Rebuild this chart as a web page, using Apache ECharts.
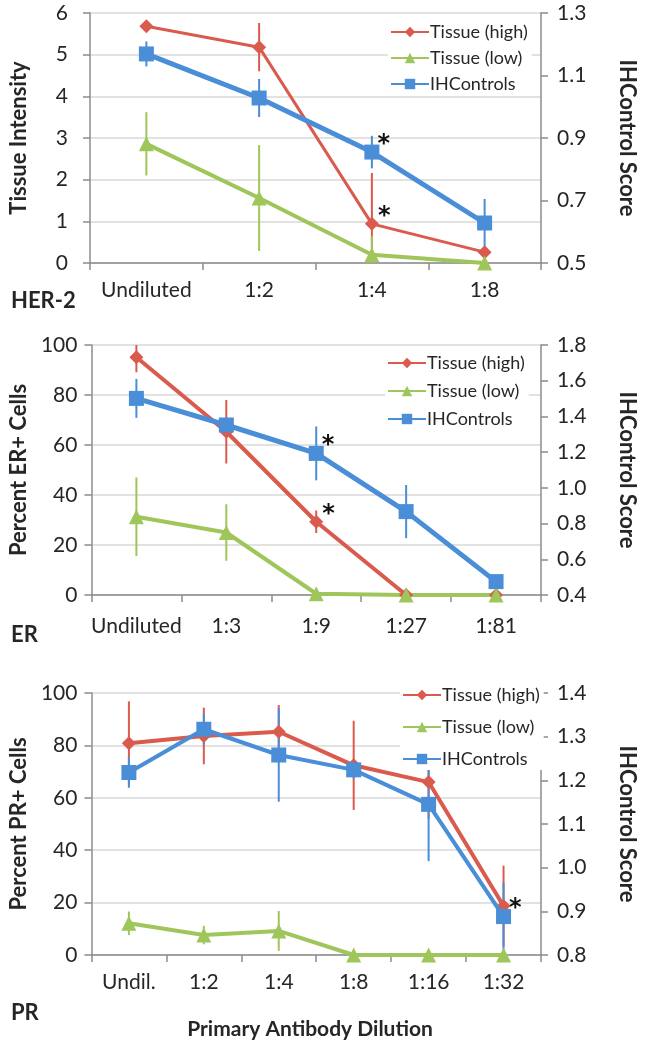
<!DOCTYPE html>
<html>
<head>
<meta charset="utf-8">
<script src="https://cdn.jsdelivr.net/npm/echarts@6/dist/echarts.min.js"></script>
<style>
html,body{margin:0;padding:0;background:#fff;}
#chart{width:646px;height:1041px;}
</style>
</head>
<body>
<div id="chart"></div>
<script>
// ---------- DATA ----------
const seriesNames = ['Tissue (high)', 'Tissue (low)', 'IHControls'];

const her2Categories = ['Undiluted', '1:2', '1:4', '1:8'];
const her2High = [5.68, 5.18, 0.94, 0.26];
const her2HighErr = [0, 0.58, 1.22, 0];
const her2Low = [2.86, 1.56, 0.2, 0];
const her2LowErr = [0.76, 1.27, 0.45, 0];
const her2Ctrl = [1.169, 1.028, 0.855, 0.628];
const her2CtrlErr = [0.04, 0.061, 0.052, 0.077];
const her2Star = { high: [2], ctrl: [2] };
const her2LeftTicks = { min: 0, max: 6, interval: 1 };
const her2RightTicks = { min: 0.5, max: 1.3, interval: 0.2 };

const erCategories = ['Undiluted', '1:3', '1:9', '1:27', '1:81'];
const erHigh = [95.1, 65.3, 29.3, 0, 0];
const erHighErr = [6, 12.7, 4.5, 0, 0];
const erLow = [31.3, 25, 0.5, 0, 0];
const erLowErr = [15.7, 11.3, 0, 0, 0];
const erCtrl = [1.501, 1.352, 1.193, 0.867, 0.475];
const erCtrlErr = [0.109, 0.02, 0.151, 0.149, 0];
const erStar = { high: [2], ctrl: [2] };
const erLeftTicks = { min: 0, max: 100, interval: 20 };
const erRightTicks = { min: 0.4, max: 1.8, interval: 0.2 };

const prCategories = ['Undil.', '1:2', '1:4', '1:8', '1:16', '1:32'];
const prHigh = [80.8, 83.6, 85.2, 72.4, 66.0, 18.7];
const prHighErr = [16, 10.8, 10.2, 17, 14, 15.4];
const prLow = [12.1, 7.6, 9.2, 0, 0, 0];
const prLowErr = [4.5, 3.5, 7.6, 0, 0, 0];
const prCtrl = [1.218, 1.317, 1.258, 1.224, 1.145, 0.888];
const prCtrlErr = [0.035, 0.035, 0.107, 0.02, 0.13, 0.077];
const prStar = { high: [], ctrl: [5] };
const prLeftTicks = { min: 0, max: 100, interval: 20 };
const prRightTicks = { min: 0.8, max: 1.4, interval: 0.1 };

// ---------- STYLE ----------
const RED = '#DA5A4E', GREEN = '#9FC65A', BLUE = '#4A8ED7';
const FONT = 'Lato';
const TXT = '#262626';
const AXIS = '#8C8C8C';

const panels = [
  { cats: her2Categories, high: her2High, highErr: her2HighErr, low: her2Low, lowErr: her2LowErr,
    ctrl: her2Ctrl, ctrlErr: her2CtrlErr, star: her2Star, lt: her2LeftTicks, rt: her2RightTicks,
    leftName: 'Tissue Intensity', grid: { left: 86, right: 94, top: 13, height: 250 },
    widths: [3, 4, 5], leftGap: 60, leftMargin: 22, labelMargin: 17,
    legend: { left: 388, top: 21, itemGap: 8 } },
  { cats: erCategories, high: erHigh, highErr: erHighErr, low: erLow, lowErr: erLowErr,
    ctrl: erCtrl, ctrlErr: erCtrlErr, star: erStar, lt: erLeftTicks, rt: erRightTicks,
    leftName: 'Percent ER+ Cells', grid: { left: 79, right: 94, top: 345, height: 250 },
    widths: [4, 4, 5], leftGap: 54, leftMargin: 14, labelMargin: 21,
    legend: { left: 385, top: 352, itemGap: 10 } },
  { cats: prCategories, high: prHigh, highErr: prHighErr, low: prLow, lowErr: prLowErr,
    ctrl: prCtrl, ctrlErr: prCtrlErr, star: prStar, lt: prLeftTicks, rt: prRightTicks,
    leftName: 'Percent PR+ Cells', grid: { left: 80, right: 94, top: 693, height: 262 },
    widths: [4, 4, 4], leftGap: 55, leftMargin: 14, labelMargin: 17,
    legend: { left: 400, top: 684, itemGap: 14 } }
];

const grids = [], xAxes = [], yAxes = [], series = [], legends = [];

function starData(values, idxs) {
  return values.map((v, i) => idxs.indexOf(i) >= 0
    ? { value: v, label: { show: true, formatter: '*', position: [13, -12], fontSize: 24,
        fontWeight: 'bold', color: '#111', fontFamily: 'DejaVu Sans' } }
    : v);
}

function errSeries(xi, yi, values, errs, color, lim, name) {
  return {
    type: 'custom', name: name, xAxisIndex: xi, yAxisIndex: yi, z: 1,
    silent: true,
    data: values.map((v, i) => [i, v, errs[i]]),
    renderItem: function (params, api) {
      const x = api.value(0), v = api.value(1), e = api.value(2);
      if (!e) return null;
      const hi = Math.min(v + e, lim.max), lo = Math.max(v - e, lim.min);
      const a = api.coord([x, hi]), b = api.coord([x, lo]);
      return { type: 'line', shape: { x1: a[0], y1: a[1], x2: b[0], y2: b[1] },
        style: { stroke: color, lineWidth: 2 } };
    }
  };
}

panels.forEach((p, k) => {
  grids.push(p.grid);
  xAxes.push({
    type: 'category', gridIndex: k, data: p.cats, boundaryGap: true,
    axisLine: { lineStyle: { color: AXIS, width: 1.5 } },
    axisTick: { show: true, length: 7, lineStyle: { color: AXIS, width: 1.5 } },
    axisLabel: { fontSize: 21, color: TXT, fontFamily: FONT, margin: p.labelMargin, interval: 0 },
    splitLine: { show: false }
  });
  yAxes.push({
    type: 'value', gridIndex: k, position: 'left', min: p.lt.min, max: p.lt.max, interval: p.lt.interval,
    name: p.leftName, nameLocation: 'middle', nameRotate: 90, nameGap: p.leftGap,
    nameTextStyle: { fontSize: 22, fontWeight: 'bold', color: TXT, fontFamily: FONT },
    axisLine: { show: true, lineStyle: { color: AXIS, width: 1.5 } },
    axisTick: { show: true, length: 7, lineStyle: { color: AXIS, width: 1.5 } },
    axisLabel: { fontSize: 21, color: TXT, fontFamily: FONT, margin: p.leftMargin },
    splitLine: { show: true, lineStyle: { color: '#D9D9D9', width: 1.5 } }
  });
  yAxes.push({
    type: 'value', gridIndex: k, position: 'right', min: p.rt.min, max: p.rt.max, interval: p.rt.interval,
    name: 'IHControl Score', nameLocation: 'middle', nameRotate: -90, nameGap: 75,
    nameTextStyle: { fontSize: 22, fontWeight: 'bold', color: TXT, fontFamily: FONT },
    axisLine: { show: true, lineStyle: { color: AXIS, width: 1.5 } },
    axisTick: { show: true, inside: false, length: 7, lineStyle: { color: AXIS, width: 1.5 } },
    axisLabel: { fontSize: 21, color: TXT, fontFamily: FONT, margin: 16,
      formatter: v => v.toFixed(1) },
    splitLine: { show: false }
  });
  const yl = 2 * k, yr = 2 * k + 1;
  series.push(errSeries(k, yl, p.high, p.highErr, RED, p.lt, 'errH' + k));
  series.push(errSeries(k, yl, p.low, p.lowErr, GREEN, p.lt, 'errL' + k));
  series.push(errSeries(k, yr, p.ctrl, p.ctrlErr, BLUE, p.rt, 'errC' + k));
  series.push({
    type: 'line', name: seriesNames[0], xAxisIndex: k, yAxisIndex: yl, z: 3,
    data: starData(p.high, p.star.high), symbol: 'diamond', symbolSize: 14,
    lineStyle: { color: RED, width: p.widths[0] }, itemStyle: { color: RED }, animation: false
  });
  series.push({
    type: 'line', name: seriesNames[1], xAxisIndex: k, yAxisIndex: yl, z: 3,
    data: p.low, symbol: 'triangle', symbolSize: 15,
    lineStyle: { color: GREEN, width: p.widths[1] }, itemStyle: { color: GREEN }, animation: false
  });
  series.push({
    type: 'line', name: seriesNames[2], xAxisIndex: k, yAxisIndex: yr, z: 4,
    data: starData(p.ctrl, p.star.ctrl), symbol: 'rect', symbolSize: 15,
    lineStyle: { color: BLUE, width: p.widths[2] }, itemStyle: { color: BLUE }, animation: false
  });
  legends.push({
    data: seriesNames, orient: 'vertical', left: p.legend.left, top: p.legend.top,
    itemGap: p.legend.itemGap, itemWidth: 38, itemHeight: 13, backgroundColor: '#fff',
    padding: [2, 4, 2, 2], selectedMode: false,
    textStyle: { fontSize: 18, color: TXT, fontFamily: FONT, padding: [0, 0, 0, -4] }
  });
});

const chart = echarts.init(document.getElementById('chart'), null, { renderer: 'canvas' });
chart.setOption({
  backgroundColor: '#fff',
  animation: false,
  textStyle: { fontFamily: FONT },
  title: [
    { text: 'HER-2', left: 6, top: 285, textStyle: { fontSize: 22, fontWeight: 'bold', color: TXT, fontFamily: FONT } },
    { text: 'ER', left: 6, top: 619, textStyle: { fontSize: 22, fontWeight: 'bold', color: TXT, fontFamily: FONT } },
    { text: 'PR', left: 6, top: 997, textStyle: { fontSize: 22, fontWeight: 'bold', color: TXT, fontFamily: FONT } },
    { text: 'Primary Antibody Dilution', left: 305, textAlign: 'center', top: 1014,
      textStyle: { fontSize: 21, fontWeight: 'bold', color: TXT, fontFamily: FONT } }
  ],
  legend: legends,
  grid: grids,
  xAxis: xAxes,
  yAxis: yAxes,
  series: series
});
</script>
</body>
</html>
